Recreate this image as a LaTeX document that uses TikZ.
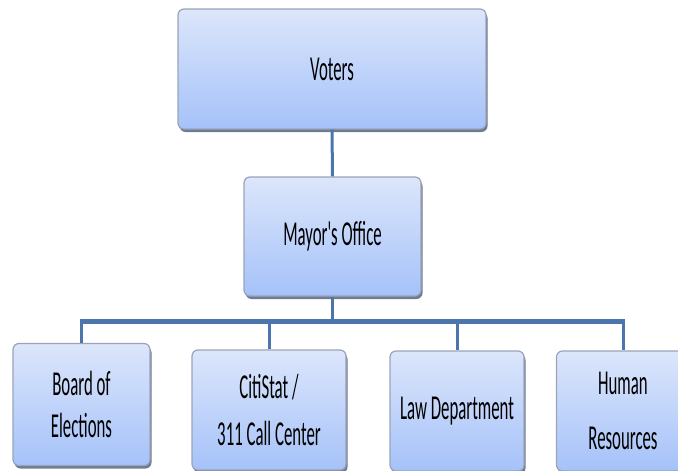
\documentclass[tikz,border=0pt]{standalone}
\usepackage{fontspec}
\setmainfont{Carlito}[FakeStretch=0.48, Ligatures=TeXOff]
\usetikzlibrary{shadows}
\definecolor{boxtop}{HTML}{DCE6FB}
\definecolor{boxbot}{HTML}{A5C2F9}
\definecolor{boxline}{HTML}{9AA4B8}
\definecolor{boxshade}{HTML}{6E7B93}
\definecolor{linkblue}{HTML}{4A76AD}
\tikzset{
  orgbox/.style={rectangle, rounded corners=6pt, draw=boxline, line width=1.2pt,
    top color=boxtop, bottom color=boxbot, align=center, text=black,
    drop shadow={shadow xshift=1.5pt, shadow yshift=-3pt, fill=boxshade, opacity=1},
    font=\fontsize{35}{42}\selectfont, inner sep=0pt},
  link/.style={draw=linkblue, line width=3pt},
  busline/.style={draw=linkblue, line width=5pt}
}
\begin{document}
\begin{tikzpicture}[x=1pt, y=-1pt]
  \useasboundingbox (0,0) rectangle (678,471);
  % top of the chart
  \node[orgbox, minimum width=308pt, minimum height=120pt] (voters) at (332,69) {Voters};
  \node[orgbox, minimum width=177pt, minimum height=119pt] (mayor) at (332.5,236.5) {Mayor's Office};
  % departments
  \node[orgbox, minimum width=137pt, minimum height=122pt] (board) at (81.5,404.5) {Board of\\Elections};
  \node[orgbox, minimum width=154pt, minimum height=120pt, font=\fontsize{35}{47}\selectfont] (citi) at (269,410) {CitiStat /\\311 Call Center};
  \node[orgbox, minimum width=134pt, minimum height=120pt] (law) at (457,411) {Law Department};
  \node[orgbox, minimum width=133pt, minimum height=120pt, font=\fontsize{35}{55}\selectfont] (hr) at (623,411) {Human\\Resources};
  % connectors
  \coordinate (bus) at (332.5,321);
  \draw[link] (voters.south) -- (mayor.north);
  \draw[link] (mayor.south) -- (bus);
  \draw[link] (board.north) -- (board.north |- bus);
  \draw[link] (citi.north) -- (citi.north |- bus);
  \draw[link] (law.north) -- (law.north |- bus);
  \draw[link] (hr.north) -- (hr.north |- bus);
  \draw[busline] ([xshift=-1.5pt]board.north |- bus) -- ([xshift=1.5pt]hr.north |- bus);
\end{tikzpicture}
\end{document}
